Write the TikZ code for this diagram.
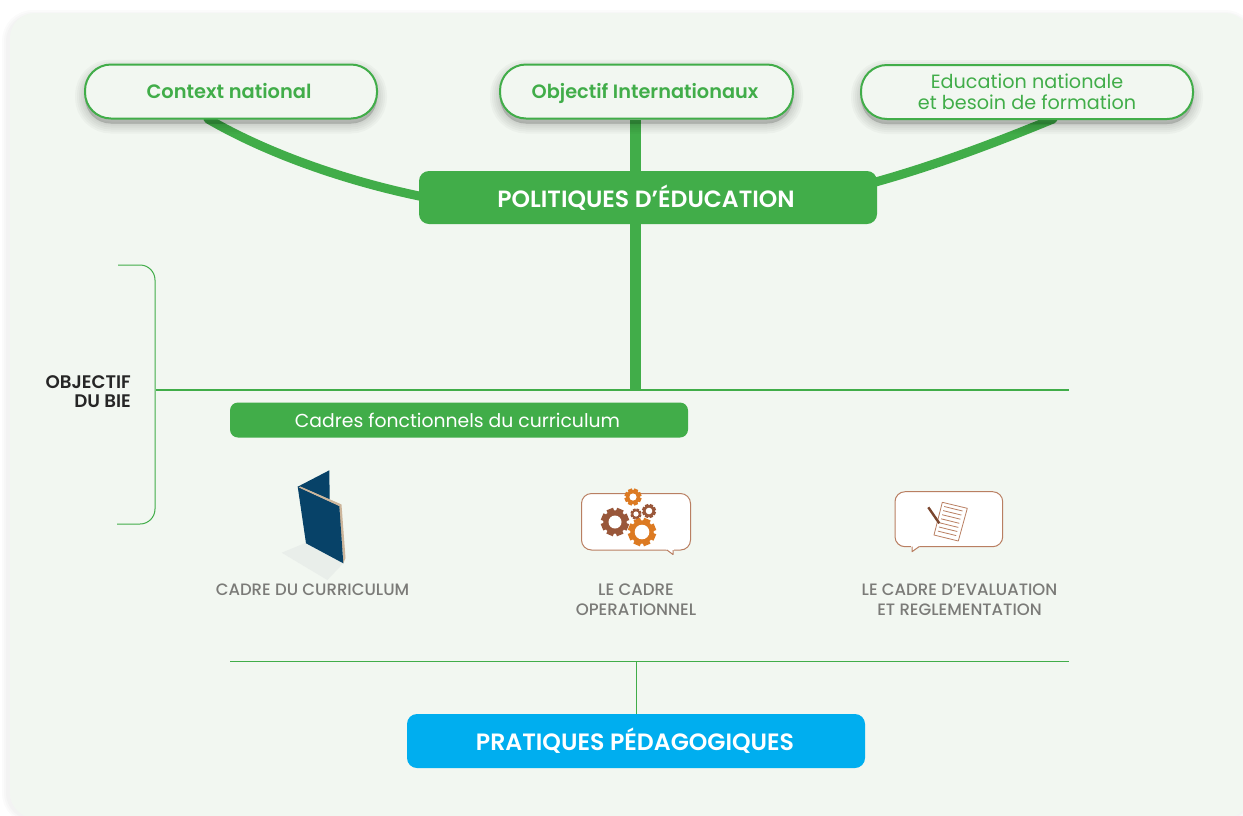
\documentclass[tikz,border=0pt]{standalone}
\usepackage{fontspec}
\setmainfont{Poppins}
\newfontfamily\semib{Poppins SemiBold}
\newfontfamily\medf{Poppins Medium}
\usetikzlibrary{shadows}
\definecolor{gr}{HTML}{41AD49}
\definecolor{panel}{HTML}{F2F7F1}
\definecolor{sky}{HTML}{00AEEF}
\definecolor{lbl}{HTML}{7B7B78}
\definecolor{brn}{HTML}{99573A}
\definecolor{org}{HTML}{DC7A22}
\definecolor{bline}{HTML}{B97F62}
\definecolor{navy}{HTML}{074268}
\definecolor{tan}{HTML}{CDB69C}
\definecolor{bookshade}{HTML}{E9EEEA}
\pgfdeclarelayer{panellayer}
\pgfdeclarelayer{conn}
\pgfsetlayers{panellayer,conn,main}
\newcommand{\fs}[1]{\fontsize{#1}{#1}\selectfont}
\newcommand{\gearshape}[5]{% x y r hole colour
  \foreach \a in {0,45,...,315}{
    \fill[#5,shift={(#1,#2)},rotate=\a+22] (-#3*.25,0) rectangle (#3*.25,#3);}
  \fill[#5] (#1,#2) circle[radius=#3*.84];
  \fill[white] (#1,#2) circle[radius=#4];
}
\tikzset{
  softlayer/.style={general shadow={fill=black,draw=black,line width=#1,opacity=.028,shadow xshift=0pt,shadow yshift=-5pt}},
  softsh/.style={softlayer=20pt,softlayer=16pt,softlayer=12pt,softlayer=8pt,softlayer=4pt,softlayer=1pt},
  pill/.style={draw=gr,line width=2pt,fill=panel,rounded corners=26pt,minimum height=54pt,text=gr,align=center,softsh,inner sep=0pt},
  oneline/.style={text height=14pt,text depth=0pt},
  greenbox/.style={fill=gr,rounded corners=10pt,minimum width=458pt,minimum height=53pt,text=white,inner sep=0pt},
  capt/.style={text=lbl,align=center,inner sep=0pt},
  thick connector/.style={draw=gr,line width=11pt},
  curve connector/.style={draw=gr,line width=9pt,line cap=round},
  thin connector/.style={draw=gr,line width=1pt},
  rule connector/.style={draw=gr,line width=2pt},
  bubble/.style={draw=bline,line width=1pt,fill=white,rounded corners=10pt,line join=round},
}
\begin{document}
\begin{tikzpicture}[x=1pt,y=-1pt]
\useasboundingbox (0,0) rectangle (1243,815);
\clip (0,0) rectangle (1243,815);

\begin{pgfonlayer}{panellayer}
\fill[white] (0,0) rectangle (1243,815);
\foreach \w in {12pt,8pt,4pt}{
  \draw[black,opacity=.016,line width=\w,rounded corners=25pt] (8,16) rectangle (1250,818);}
\fill[panel,rounded corners=25pt] (10,13) rectangle (1250,818);
\end{pgfonlayer}

% nodes
\node[pill,oneline,minimum width=292pt,font=\semib\fs{19.4}] (ctx) at (231,91.5) {\hspace*{-4pt}Context national};
\node[pill,oneline,minimum width=293pt,font=\semib\fs{19.3}] (obj) at (646.5,91.5) {\hspace*{-3pt}Objectif Internationaux};
\node[pill,minimum width=332pt,font=\fs{19.2}] (edu) at (1027,92) {Education nationale\\[2.2pt]et besoin de formation};
\node[greenbox,font=\semib\fs{23.5}] (pol) at (648,197.5) {\hspace*{-4pt}POLITIQUES D’ÉDUCATION};

\coordinate (bl) at (156,390);
\coordinate (br) at (1069,390);
\coordinate (tr) at (635.5,390);
\coordinate (ctxend) at (208,119);
\coordinate (eduend) at (1053,119);
\coordinate (polL) at (424,197);
\coordinate (polR) at (872,183);

\node[fill=gr,rounded corners=8pt,minimum width=458pt,minimum height=35pt,text=white,inner sep=0pt,font=\fs{18.8}] (cad) at (459,420) {\hspace*{-3pt}Cadres fonctionnels du curriculum};
\node[fill=sky,rounded corners=10pt,minimum width=458pt,minimum height=54pt,text=white,inner sep=0pt,font=\semib\fs{23.6}] (pra) at (636,741) {\hspace*{-2pt}PRATIQUES PÉDAGOGIQUES};

\node[font=\semib\fs{18.2},align=right,inner sep=0pt,anchor=east,text=black!85] (bie) at (131,391.5) {OBJECTIF\\[1.5pt]DU BIE};

\node[capt,font=\medf\fs{16.5}] (c1) at (312.5,589.5) {CADRE DU CURRICULUM};
\node[capt,font=\medf\fs{16.6}] (c2) at (636,599.5) {LE CADRE\\[3.5pt]OPERATIONNEL};
\node[capt,font=\medf\fs{16.5}] (c3) at (959.5,599.5) {LE CADRE D’EVALUATION\\[3.5pt]ET REGLEMENTATION};

% connectors
\begin{pgfonlayer}{conn}
\draw[curve connector] (ctxend) .. controls (270,155) and (350,182) .. (polL);
\draw[curve connector] (eduend) .. controls (990,145) and (930,167) .. (polR);
\draw[thick connector] (obj.south -| tr) -- (pol.north -| tr);
\draw[thick connector] (pol.south -| tr) -- (tr);
\draw[rule connector] (bl) -- (br);
\end{pgfonlayer}

\coordinate (bb1) at (230,661);
\coordinate (bb2) at (1069,661);
\draw[thin connector] (bb1) -- (bb2);
\draw[thin connector] (pra.north) -- (pra.north |- bb1);

% brace
\draw[thin connector,rounded corners=15pt] (118,265) -- (155,265) -- (155,524) -- (117,524);

% book
\fill[bookshade] (281.7,552.7) -- (306,542.7) -- (343.3,563.3) -- (327.3,580) -- cycle;
\fill[navy] (297.7,486.7) -- (329.3,470.3) -- (329.7,500) -- cycle;
\fill[tan] (300,486.5) -- (341.5,504.5) -- (345.5,558) -- (343.3,563.3) -- (339,506.5) -- cycle;
\fill[navy] (297.7,486.7) -- (339.3,506) -- (343.3,563.3) -- (306,543.3) -- cycle;
\fill[tan] (300.5,486.6) -- (341,504.5) -- (339.3,506) -- (298.7,487.4) -- cycle;

% bubble 1 with gears
\draw[bubble] (636,493.5) -- (690.5,493.5) -- (690.5,550) -- (581.5,550) -- (581.5,493.5) -- cycle;
\fill[white] (666,549) -- (674,549) -- (673,554.5) -- cycle;
\draw[bline,line width=1pt,line join=round] (667,550) -- (673,554.5) -- (673,550);
\gearshape{615}{522}{14}{6.5}{brn}
\gearshape{636}{514}{5.5}{2.6}{brn}
\gearshape{649}{511}{7}{3.3}{brn}
\gearshape{642}{532}{14}{7.3}{org}
\gearshape{633}{497}{8.5}{3.6}{org}

% bubble 2 with paper
\draw[bubble] (950,491.7) -- (1002.7,491.7) -- (1002.7,546.7) -- (895,546.7) -- (895,491.7) -- cycle;
\fill[white] (911,545.7) -- (920,545.7) -- (912,551.7) -- cycle;
\draw[bline,line width=1pt,line join=round] (912,546.7) -- (912,551.7) -- (919,546.7);
\draw[bline,line width=.8pt,line join=round] (942.3,502.3) -- (967.3,508.3) -- (958.3,541) -- (934,535) -- cycle;
\foreach \t in {0,1,...,6}{
  \draw[bline,line width=.8pt] (944.2+\t*-1.05,506.5+\t*4.1) -- (962.5+\t*-1.05,511+\t*4.1);
}
\draw[brn!80!black,line width=2.4pt] (928.3,507.3) -- (939.3,523.3);
\end{tikzpicture}
\end{document}
